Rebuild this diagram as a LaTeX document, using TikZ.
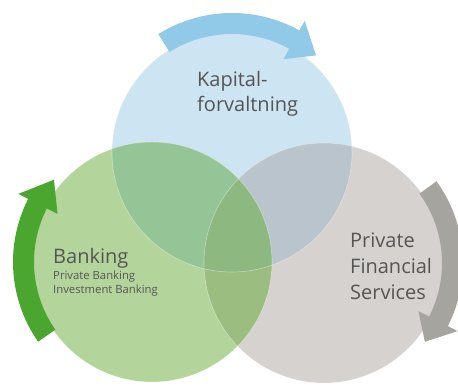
\documentclass[tikz,border=0pt]{standalone}
\usepackage{fontspec}
\setmainfont{Open Sans}
\usepackage{tikz}
\usetikzlibrary{calc}

\begin{document}
\begin{tikzpicture}[x=1pt,y=1pt,
  ttl/.style={anchor=base west,inner sep=0pt,text=ctx,font=\fontsize{20}{24}\selectfont},
  sub/.style={anchor=base west,inner sep=0pt,text=ctx,font=\fontsize{11.3}{13}\selectfont}]
\definecolor{cfk}{RGB}{205,228,242}
\definecolor{cfb}{RGB}{179,213,156}
\definecolor{cfp}{RGB}{214,210,207}
\definecolor{ckb}{RGB}{149,197,150}
\definecolor{ckp}{RGB}{186,196,204}
\definecolor{cbp}{RGB}{155,190,128}
\definecolor{ckbp}{RGB}{141,184,128}
\definecolor{carwk}{RGB}{145,201,232}
\definecolor{carwb}{RGB}{74,166,46}
\definecolor{carwp}{RGB}{165,164,158}
\definecolor{ctx}{RGB}{85,85,85}
%
\useasboundingbox (0,0) rectangle (458,390);
\coordinate (ck) at (232,238);
\coordinate (cb) at (152,128);
\coordinate (cp) at (324,127);
%
\fill[cfk] (ck) circle[radius=120pt];
\fill[cfb] (cb) circle[radius=120pt];
\fill[cfp] (cp) circle[radius=120pt];
%
\begin{scope}
\clip (cb) circle[radius=120pt];
\fill[cbp] (cp) circle[radius=120pt];
\end{scope}
\begin{scope}
\clip (ck) circle[radius=120pt];
\fill[ckb] (cb) circle[radius=120pt];
\fill[ckp] (cp) circle[radius=120pt];
\clip (cb) circle[radius=120pt];
\fill[ckbp] (cp) circle[radius=120pt];
\end{scope}
\draw[white,opacity=0.4,line width=0.6pt] (ck) circle[radius=120pt] (cb) circle[radius=120pt] (cp) circle[radius=120pt];
%
\fill[carwk] ($(ck)+(122:139pt)$) arc[start angle=122, end angle=61, radius=139pt]
  -- ($(ck)+(61:150pt)$) -- ($(ck)+(49:128pt)$) -- ($(ck)+(61:106pt)$)
  -- ($(ck)+(61:118pt)$) arc[start angle=61, end angle=122, radius=118pt] -- cycle;
\fill[carwb] ($(cb)+(215:139pt)$) arc[start angle=215, end angle=153, radius=139pt]
  -- ($(cb)+(153:150pt)$) -- ($(cb)+(140:128pt)$) -- ($(cb)+(153:106pt)$)
  -- ($(cb)+(153:118pt)$) arc[start angle=153, end angle=215, radius=118pt] -- cycle;
\fill[carwp] ($(cp)+(36:139pt)$) arc[start angle=36, end angle=-27, radius=139pt]
  -- ($(cp)+(-27:150pt)$) -- ($(cp)+(-38:128pt)$) -- ($(cp)+(-27:106pt)$)
  -- ($(cp)+(-27:118pt)$) arc[start angle=-27, end angle=36, radius=118pt] -- cycle;
%
\node[ttl] (k1) at (197,303) {Kapital-};
\node[ttl] (k2) at (197,278) {forvaltning};
\node[ttl] (b1) at (53,126) {Banking};
\node[sub] (b2) at (53,110) {Private Banking};
\node[sub] (b3) at (53,96) {Investment Banking};
\node[ttl] (p1) at (350,142) {Private};
\node[ttl] (p2) at (350,116) {Financial};
\node[ttl] (p3) at (350,90) {Services};
%
\end{tikzpicture}
\end{document}
